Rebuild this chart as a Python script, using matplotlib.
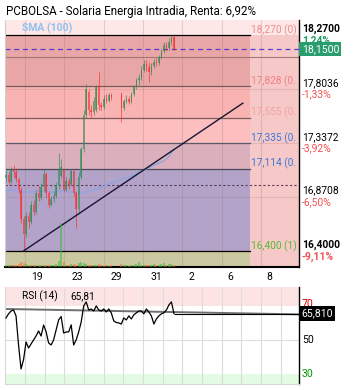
import numpy as np
import matplotlib
matplotlib.use('Agg')
import matplotlib.pyplot as plt

plt.rcParams['font.family'] = ['Roboto', 'DejaVu Sans']

nan = np.nan

# ---------------- data ----------------
opens = [17.03, 17.06, 17.00, 17.10, 17.08, 17.02, 16.93, 16.68, 16.55, 16.70,
         16.65, 16.80, 16.74, 16.90, 16.86, 16.95, 17.07, 16.90, 16.80, 16.85,
         16.88, 16.97, 17.05, 17.10, 16.93, 17.01, 16.97, 17.09, 16.90, 16.76,
         17.04, 17.28, 17.58, 17.78, 17.62, 17.60, 17.62, 17.82, 17.66, 17.65,
         17.72, 17.70, 17.75, nan, nan, nan, 17.76, 17.64, 17.70, 17.72,
         17.69, 17.76, 17.82, 17.88, 17.90, 17.97, 18.02, 17.99, 17.95, 18.00,
         18.04, 18.03, 18.08, 18.13, 18.18, 18.16, 18.21, 18.25]
highs = [17.10, 17.08, 17.13, 17.14, 17.12, 17.03, 16.95, 16.70, 16.74, 16.74,
         16.83, 16.84, 16.93, 16.96, 16.99, 17.10, 17.08, 16.92, 16.88, 16.92,
         17.00, 17.25, 17.20, 17.11, 17.04, 17.03, 17.11, 17.10, 16.92, 17.08,
         17.30, 17.62, 17.85, 17.80, 17.66, 17.73, 17.84, 17.95, 17.69, 17.75,
         17.76, 17.77, 17.77, nan, nan, nan, 17.78, 17.72, 17.75, 17.74,
         17.78, 17.84, 17.90, 17.93, 18.00, 18.05, 18.05, 18.04, 18.03, 18.06,
         18.07, 18.10, 18.15, 18.21, 18.21, 18.24, 18.27, 18.26]
lows = [17.00, 16.98, 16.99, 17.04, 17.00, 16.90, 16.64, 16.40, 16.52, 16.60,
        16.63, 16.70, 16.72, 16.83, 16.84, 16.92, 16.86, 16.77, 16.79, 16.82,
        16.86, 16.94, 17.03, 16.91, 16.92, 16.94, 16.96, 16.88, 16.60, 16.74,
        17.02, 17.26, 17.55, 17.58, 17.56, 17.58, 17.60, 17.62, 17.62, 17.63,
        17.68, 17.69, 17.71, nan, nan, nan, 17.52, 17.62, 17.68, 17.67,
        17.68, 17.74, 17.80, 17.84, 17.88, 17.95, 17.96, 17.86, 17.92, 17.98,
        18.00, 18.01, 18.06, 18.11, 18.13, 18.14, 18.18, 18.14]
closes = [17.06, 17.00, 17.10, 17.08, 17.02, 16.93, 16.68, 16.55, 16.70, 16.65,
          16.80, 16.74, 16.90, 16.86, 16.95, 17.07, 16.90, 16.80, 16.85, 16.88,
          16.97, 17.10, 17.13, 16.93, 17.01, 16.97, 17.09, 16.90, 16.76, 17.04,
          17.28, 17.58, 17.80, 17.62, 17.60, 17.70, 17.82, 17.66, 17.65, 17.72,
          17.70, 17.75, 17.73, nan, nan, nan, 17.64, 17.70, 17.72, 17.69,
          17.76, 17.82, 17.88, 17.90, 17.97, 18.02, 17.99, 17.95, 18.00, 18.04,
          18.03, 18.08, 18.13, 18.18, 18.16, 18.21, 18.25, 18.15]
volumes = [5, 4, 6, 4, 5, 8, 12, 10, 7, 5,
           6, 4, 5, 4, 6, 5, 4, 6, 5, 4,
           8, 15, 107, 12, 6, 5, 7, 8, 6, 9,
           12, 10, 8, 5, 4, 5, 6, 8, 4, 3,
           4, 3, 4, nan, nan, nan, 7, 5, 4, 3,
           5, 6, 8, 11, 6, 4, 5, 6, 4, 7,
           5, 6, 8, 9, 5, 7, 8, 6]
sma100 = [16.92, 16.92, 16.93, 16.93, 16.92, 16.92, 16.91, 16.91, 16.91, 16.91,
          16.91, 16.91, 16.92, 16.92, 16.92, 16.92, 16.92, 16.91, 16.91, 16.91,
          16.91, 16.92, 16.92, 16.92, 16.92, 16.91, 16.91, 16.91, 16.90, 16.90,
          16.90, 16.91, 16.91, 16.92, 16.92, 16.93, 16.94, 16.94, 16.95, 16.96,
          16.97, 16.98, 16.99, 16.99, 17.00, 17.01, 17.02, 17.03, 17.03, 17.04,
          17.05, 17.06, 17.07, 17.08, 17.09, 17.10, 17.11, 17.12, 17.13, 17.14,
          17.15, 17.16, 17.17, 17.18, 17.20, 17.22, 17.25, 17.28]
rsi14 = [63.2, 65.6, 67.3, 67.9, 64.4, 47.2, 33.0, 38.5, 49.0, 45.4,
         47.8, 50.2, 52.5, 55.5, 52.5, 59.0, 55.0, 48.4, 47.2, 50.2,
         56.1, 62.0, 64.0, 54.3, 54.9, 54.9, 59.1, 47.2, 50.2, 54.9,
         60.8, 70.3, 72.7, 67.9, 68.5, 67.3, 70.3, 67.9, 67.3, 68.5,
         66.7, 68.5, 66.2, 61.4, 60.5, 60.2, 59.6, 63.2, 62.0, 64.4,
         62.6, 65.0, 66.2, 67.3, 67.3, 65.6, 68.5, 66.7, 64.4, 59.6,
         62.6, 64.4, 65.6, 66.2, 67.9, 70.9, 72.7, 65.81]

fib_values = [18.270, 17.828, 17.555, 17.335, 17.114, 16.400]
fib_labels = ['18,270 (0)', '17,828 (0.', '17,555 (0.',
              '17,335 (0.', '17,114 (0.', '16,400 (1)']
price_ticks = [18.2700, 17.8036, 17.3372, 16.8708, 16.4000]
price_tick_labels = ['18,2700', '17,8036', '17,3372', '16,8708', '16,4000']
price_pcts = ['1,24%', '-1,33%', '-3,92%', '-6,50%', '-9,11%']
last_price = 18.15
last_price_label = '18,1500'
ref_level = 18.08
dash_level = 16.97
date_labels = ['19', '23', '29', '31', '2', '6', '8']
date_pos = [12.4, 28.3, 43.9, 59.8, 73.8, 89.3, 104.9]
trend_x = [7.0, 94.5]
trend_y = [16.40, 17.68]
rsi_last = 65.81
rsi_trend_x = [-0.4, 116.9]
rsi_trend_y = [68.5, 65.3]
rsi_levels = [70, 50, 30]

# ---------------- layout / style ----------------
W, H = 353, 390
fig = plt.figure(figsize=(W / 100, H / 100), dpi=100)
fig.patch.set_facecolor('white')

def ax_rect(l, t, r, b):
    return [l / W, 1 - b / H, (r - l) / W, (b - t) / H]

ax = fig.add_axes(ax_rect(5, 20, 299, 267))
axr = fig.add_axes(ax_rect(5, 287, 299, 384))

x = np.arange(len(closes))
XMIN, XMAX = -0.4, 116.9
FIB_END = 97.3
ax.set_xlim(XMIN, XMAX)
ax.set_ylim(16.261, 18.40)
ax.set_facecolor('#fde7e7')

# right-side pink area
ax.fill_between([FIB_END, XMAX], ax.get_ylim()[0], fib_values[0],
                color='#f7c8c8', lw=0, zorder=0)
zone_colors = ['#e9a6a6', '#f9b3b3', '#fcbebe', '#dbb0bc', '#b3a3c8', '#cbc9a1']
bounds = fib_values + [ax.get_ylim()[0]]
for k in range(len(zone_colors)):
    ax.fill_between([XMIN, FIB_END], bounds[k + 1], bounds[k],
                    color=zone_colors[k], lw=0, zorder=0)

# grid
grid_x = [7.6, 23.3, 39.0, 54.7, 70.4, 86.1, 101.8]
for gx in grid_x:
    ax.axvline(gx, color='#8a6a6a', alpha=0.22, lw=0.8, zorder=0.5)
for py in price_ticks[1:4]:
    ax.axhline(py, color='#8a6a6a', alpha=0.18, lw=0.8, zorder=0.5)

# fib lines
fib_line_colors = ['black', '#7a5a5a', '#7a5a5a', '#5a5a6a', '#4a4a5a', 'black']
for v, col in zip(fib_values, fib_line_colors):
    ax.plot([XMIN, FIB_END], [v, v], color=col, lw=0.9, zorder=1)
ax.axhline(ref_level, color='#a07878', lw=0.8, zorder=1)
ax.axhline(dash_level, color='#5a3a5a', lw=0.8, ls=(0, (2, 2)), zorder=1)
ax.axhline(last_price, color='#3a2ad8', lw=0.9, ls=(0, (4, 3)), alpha=0.85, zorder=1)

# fib labels
fib_text_colors = ['#f08c8c', '#f08080', '#f4a2a2', '#3a7ad8', '#3a7ad8', '#55bb33']
for v, t, col in zip(fib_values, fib_labels, fib_text_colors):
    ax.annotate(t, xy=(FIB_END, v), xytext=(0.5, 3.6), textcoords='offset points',
                va='center', ha='left', fontsize=7.3, color=col, annotation_clip=False,
                clip_on=True, zorder=3)

# volume
vax = ax.twinx()
vax.set_ylim(0, 600)
vax.set_yticks([])
for s in vax.spines.values():
    s.set_visible(False)
o = np.array(opens); c = np.array(closes)
up = c >= o
vcol = np.where(up, '#3cb83c', '#ff6a2a')
vax.bar(x, volumes, width=0.8, color=vcol, alpha=0.55, lw=0)

# SMA
ax.plot(x, sma100, color='#8aa4e0', lw=0.9, zorder=2)

# trend line
ax.plot(trend_x, trend_y, color='#161634', lw=1.0, zorder=4)

# candles
hi = np.array(highs); lo = np.array(lows)
ccol = np.where(up, '#2e8b57', '#ff2a2a')
ax.vlines(x, lo, hi, colors=ccol, lw=0.7, alpha=0.65, zorder=3)
body = np.maximum(np.abs(c - o), 0.006)
ax.bar(x, body, bottom=np.minimum(o, c), width=0.6, color=ccol, alpha=0.65,
       lw=0, zorder=3)

# axes styling
ax.set_yticks([])
ax.set_xticks(date_pos)
ax.set_xticklabels(date_labels, fontsize=7.5)
ax.tick_params(axis='x', length=0, pad=3.5)
ax.spines['top'].set_visible(False)
ax.spines['left'].set_color('#cfcfcf')
ax.spines['right'].set_color('black')
ax.spines['right'].set_linewidth(1.0)
ax.spines['bottom'].set_color('black')
ax.spines['bottom'].set_linewidth(1.5)

vax.text(0.058, 0.966, 'SMA (100)', transform=ax.transAxes, fontsize=7.5,
         fontweight='bold', color='#92c0ee', va='center', zorder=6)

# right price labels
for v, t, p in zip(price_ticks, price_tick_labels, price_pcts):
    bold = v in (price_ticks[0], price_ticks[-1])
    ax.annotate(t, xy=(1, v), xycoords=('axes fraction', 'data'), xytext=(2, 4.3),
                textcoords='offset points', va='center', ha='left', fontsize=7.4,
                color='black', fontweight='bold' if bold else 'normal',
                annotation_clip=False)
    pc = '#1f9a63' if p[0] != '-' else '#f05050'
    ax.annotate(p, xy=(1, v), xycoords=('axes fraction', 'data'), xytext=(2, -4.0),
                textcoords='offset points', va='center', ha='left', fontsize=7.4,
                color=pc, fontweight='bold' if bold else 'normal',
                annotation_clip=False)
ax.annotate(last_price_label, xy=(1, last_price), xycoords=('axes fraction', 'data'),
            xytext=(2, 0), textcoords='offset points', va='center', ha='left',
            fontsize=7.6, color='white', annotation_clip=False, zorder=10,
            bbox=dict(boxstyle='square,pad=0.22', fc='#2a9d6e', ec='none'))

# title
fig.text(6 / W, 1 - 12 / H, 'PCBOLSA - Solaria Energia Intradia, Renta: 6,92%',
         fontsize=8.4, color='black', va='center', ha='left')

# ---------------- RSI panel ----------------
axr.set_xlim(XMIN, XMAX)
axr.set_ylim(24.1, 81.5)
axr.set_facecolor('white')
axr.axhspan(70, 81.5, color='#fde4e4', lw=0, zorder=0)
axr.axhspan(24.1, 30, color='#e2fbe2', lw=0, zorder=0)
rsi_grid_x = [7.6 + 7.85 * k for k in range(14)]
for gx in rsi_grid_x:
    axr.axvline(gx, color='#dcdcdc', lw=0.8, zorder=0.5)
axr.axhline(50, color='#dcdcdc', lw=0.8, zorder=0.5)
axr.plot(rsi_trend_x, rsi_trend_y, color='#707070', lw=1.4, zorder=2)
axr.hlines(rsi_last, x[-1], XMAX, color='black', lw=0.8, zorder=2)
axr.plot(x, rsi14, color='black', lw=0.9, zorder=3)
axr.set_xticks([]); axr.set_yticks([])
for s in ['left', 'bottom']:
    axr.spines[s].set_color('#d8d8d8')
axr.spines['top'].set_visible(False)
axr.spines['right'].set_color('black')
axr.spines['right'].set_linewidth(1.0)
axr.text(0.058, 0.905, 'RSI (14)', transform=axr.transAxes, fontsize=7.3, va='center')
axr.text(0.222, 0.905, '65,81', transform=axr.transAxes, fontsize=7.3, va='center')
lvl_cols = ['#e00000', 'black', '#009a00']
lvl_dy = [1.5, 0, 0]
for lv, lc, dy in zip(rsi_levels, lvl_cols, lvl_dy):
    axr.annotate(str(lv), xy=(1, lv), xycoords=('axes fraction', 'data'), xytext=(2, dy),
                 textcoords='offset points', va='center', ha='left', fontsize=7.6,
                 color=lc, annotation_clip=False)
axr.annotate('65,810', xy=(1, rsi_last), xycoords=('axes fraction', 'data'),
             xytext=(2, 0), textcoords='offset points', va='center', ha='left',
             fontsize=7.6, color='white', annotation_clip=False, zorder=10,
             bbox=dict(boxstyle='square,pad=0.2', fc='black', ec='none'))

fig.savefig('out.png', dpi=100)
